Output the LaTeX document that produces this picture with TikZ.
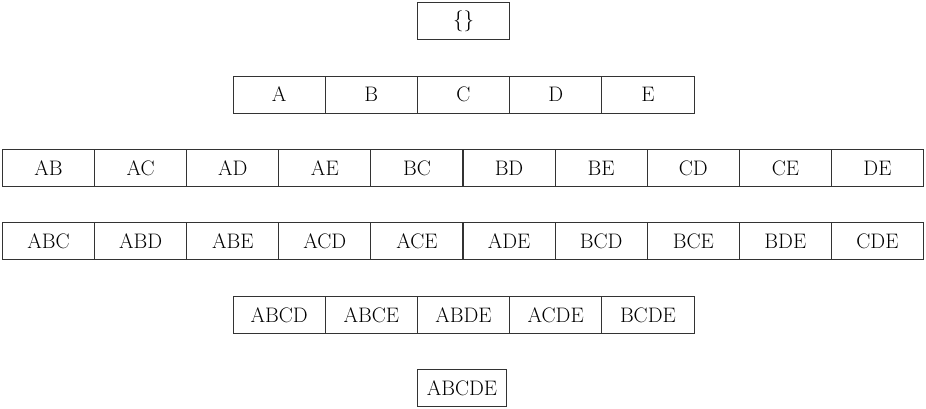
\documentclass[tikz,border=0pt]{standalone}
\begin{document}
\begin{tikzpicture}[x=1pt,y=1pt,
  cell/.style={draw=black!80, line width=1pt, minimum width=92.2pt, minimum height=37pt,
    inner sep=0pt, outer sep=0pt, font=\fontsize{21}{25}\selectfont}]
\useasboundingbox (0,0) rectangle (926,-408);
\node[cell] (empty) at (463.5,-21) {\{\}};
\foreach \t [count=\i] in {A,B,C,D,E}
  \node[cell] (one-\i) at ({233+92.2*(\i-0.5)},-94.5) {\t};
\foreach \t [count=\i] in {AB,AC,AD,AE,BC,BD,BE,CD,CE,DE}
  \node[cell] (two-\i) at ({2.5+92.1*(\i-0.5)},-168) {\t};
\foreach \t [count=\i] in {ABC,ABD,ABE,ACD,ACE,ADE,BCD,BCE,BDE,CDE}
  \node[cell] (three-\i) at ({2.5+92.1*(\i-0.5)},-241) {\t};
\foreach \t [count=\i] in {ABCD,ABCE,ABDE,ACDE,BCDE}
  \node[cell] (four-\i) at ({233+92.2*(\i-0.5)},-315) {\t};
\node[cell, minimum width=89pt] (all) at (462,-388) {ABCDE};
\end{tikzpicture}
\end{document}
